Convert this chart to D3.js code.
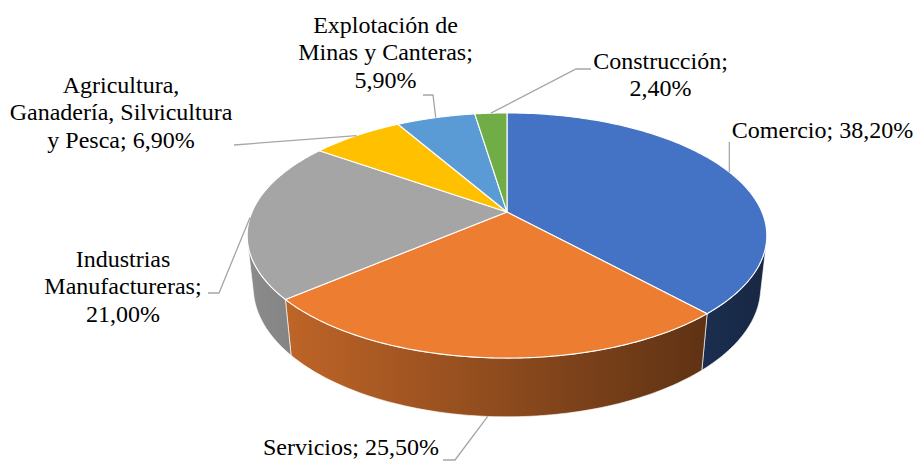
<!DOCTYPE html>
<html><head><meta charset="utf-8">
<script src="https://cdn.jsdelivr.net/npm/d3@7"></script>
</head><body style="margin:0;background:#fff">
<svg id="c" width="915" height="465" style="display:block"></svg>
<script>
// ---- data ----
const categories = ["Comercio", "Servicios", "Industrias Manufactureras",
  "Agricultura, Ganadería, Silvicultura y Pesca", "Explotación de Minas y Canteras", "Construcción"];
const values = [38.2, 25.5, 21.0, 6.9, 5.9, 2.4];
const colors = ["#4472C4", "#ED7D31", "#A5A5A5", "#FFC000", "#5B9BD5", "#70AD47"];
const labelLines = [
  ["Comercio; {v}"],
  ["Servicios; {v}"],
  ["Industrias", "Manufactureras;", "{v}"],
  ["Agricultura,", "Ganadería, Silvicultura", "y Pesca; {v}"],
  ["Explotación de", "Minas y Canteras;", "{v}"],
  ["Construcción;", "{v}"]
];

// ---- layout ----
const svg = d3.select("#c");
const cam = {cx: 507, cy: 212, f: 1178, D: 4.62, e: Math.asin(0.463), h: 0.231};
const ce = Math.cos(cam.e), se = Math.sin(cam.e);
function proj(theta, y = 0, r = 1) {
  const x = r * Math.sin(theta), z = r * Math.cos(theta);
  const yc = y * ce + z * se;
  const d = cam.D + z * ce - y * se;
  return [cam.cx + cam.f * x / d, cam.cy - cam.f * yc / d];
}
const tMin = Math.acos(-1 / (cam.D * ce));
const tMax = 2 * Math.PI - tMin;

const arcs = d3.pie().sort(null).value(d => d)(values);
const fmt = v => d3.format(".2f")(v).replace(".", ",") + "%";
const line = d3.line();
const shade = d3.scaleLinear().domain([248, 767]).range([0.84, 0.34]);

function arcPts(a0, a1, y, n) {
  const s = d3.scaleLinear().domain([0, n]).range([a0, a1]);
  return d3.range(n + 1).map(i => proj(s(i), y));
}

// gradients for side walls
const defs = svg.append("defs");
colors.forEach((c, i) => {
  const g = defs.append("linearGradient").attr("id", "g" + i)
    .attr("gradientUnits", "userSpaceOnUse")
    .attr("x1", shade.domain()[0]).attr("x2", shade.domain()[1]).attr("y1", 0).attr("y2", 0);
  [0, 1].forEach(o => {
    const k = shade.range()[o];
    const rgb = d3.rgb(c);
    g.append("stop").attr("offset", o)
      .attr("stop-color", d3.rgb(rgb.r * k, rgb.g * k, rgb.b * k).formatHex());
  });
});

// side walls (front-facing part only)
const gWalls = svg.append("g");
arcs.forEach((a, i) => {
  const a0 = Math.max(a.startAngle, tMin), a1 = Math.min(a.endAngle, tMax);
  if (a1 <= a0) return;
  const top = arcPts(a0, a1, 0, 80);
  const bot = arcPts(a1, a0, -cam.h, 80);
  gWalls.append("path")
    .attr("d", line(top.concat(bot)) + "Z")
    .attr("fill", `url(#g${i})`)
    .attr("stroke", "#ffffff").attr("stroke-width", 0.8).attr("stroke-opacity", 0.8)
    .attr("stroke-linejoin", "round");
});

// top faces
const gTop = svg.append("g");
const center = proj(0, 0, 0);
arcs.forEach((a, i) => {
  const pts = [center].concat(arcPts(a.startAngle, a.endAngle, 0, 120));
  gTop.append("path")
    .attr("d", line(pts) + "Z")
    .attr("fill", colors[i])
    .attr("stroke", "#ffffff").attr("stroke-width", 1.1)
    .attr("stroke-linejoin", "round");
});

// leader lines: label-side points (layout), pie-side point from geometry
const leaderStart = [
  [[730, 142]],
  [[443, 460], [455, 460]],
  [[208, 293], [219, 293]],
  [[234, 145]],
  [[423, 95], [433, 95]],
  [[591, 69], [576, 69]]
];
const leaderOnBottom = [false, true, false, false, false, false];
const gLines = svg.append("g");
arcs.forEach((a, i) => {
  const mid = (a.startAngle + a.endAngle) / 2;
  const end = proj(mid, leaderOnBottom[i] ? -cam.h : 0);
  let pts = leaderStart[i].concat([end]);
  if (i === 0) pts = [[end[0], 142], end];
  gLines.append("path").attr("d", line(pts))
    .attr("fill", "none").attr("stroke", "#a6a6a6").attr("stroke-width", 1.3);
});

// labels (one text element per line)
const labelPos = [
  [822.5, 138], [351, 455], [123, 267], [121, 92.7], [385.5, 33], [660.5, 69]
];
const lh = 27.4;
const lineData = [];
arcs.forEach((a, i) => {
  labelLines[i].forEach((s, j) => {
    lineData.push({x: labelPos[i][0], y: labelPos[i][1] + j * lh, t: s.replace("{v}", fmt(values[i]))});
  });
});
svg.append("g").selectAll("text").data(lineData).join("text")
  .attr("x", d => d.x).attr("y", d => d.y)
  .attr("font-family", "Times New Roman")
  .style("font-family", '"Times New Roman"')
  .style("font-size", "24px")
  .style("fill", "#000")
  .attr("text-anchor", "middle")
  .text(d => d.t);
</script>
</body></html>
